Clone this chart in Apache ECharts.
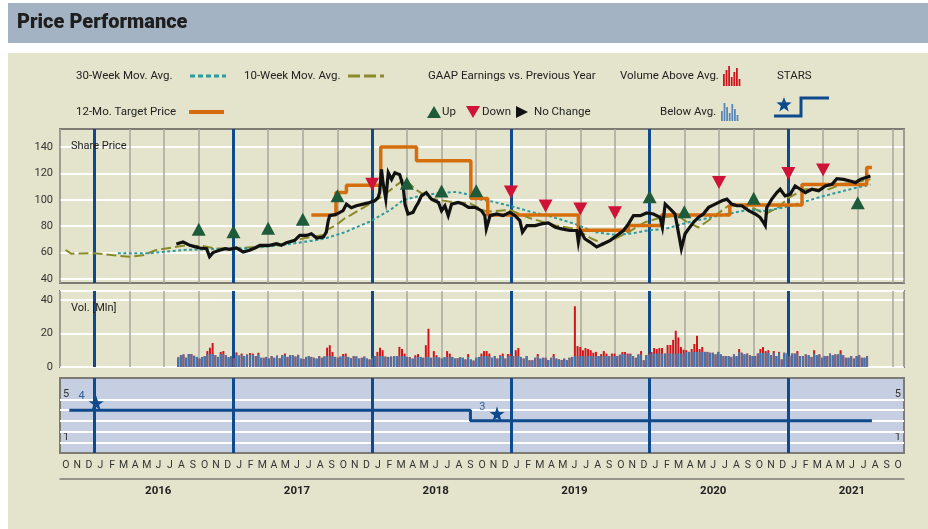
<!DOCTYPE html>
<html><head><meta charset="utf-8">
<script src="https://cdn.jsdelivr.net/npm/echarts@6/dist/echarts.min.js"></script>
<style>
html,body{margin:0;padding:0;background:#fff;width:928px;height:529px;overflow:hidden}
#hdr{position:absolute;left:8px;top:3px;width:920px;height:40px;background:#a4b3c3}
#bg{position:absolute;left:8px;top:53px;width:920px;height:476px;background:#e4e4cd}
#c{position:absolute;left:0;top:0;width:928px;height:529px}
</style>
</head><body><div id="hdr"></div><div id="bg"></div><div id="c"></div>
<script>
// ---------------- DATA ----------------
const monthLetters = ['J','F','M','A','M','J','J','A','S','O','N','D'];
const yearLabels = ['2016','2017','2018','2019','2020','2021'];
const priceTicks = [40,60,80,100,120,140];

const priceDates = ['2016-08-03','2016-08-21','2016-09-08','2016-09-20','2016-10-04','2016-10-22','2016-10-30','2016-11-08','2016-11-25','2016-12-10','2016-12-22',
'2017-01-09','2017-01-27','2017-02-12','2017-02-25','2017-03-10','2017-04-05','2017-04-23','2017-05-05','2017-05-19','2017-06-10','2017-06-23','2017-07-11','2017-07-24','2017-08-07','2017-08-25','2017-09-02','2017-09-07','2017-09-11','2017-09-28','2017-10-16','2017-10-25','2017-11-07','2017-11-20','2017-12-08','2017-12-25',
'2018-01-08','2018-01-17','2018-01-21','2018-01-26','2018-01-30','2018-02-06','2018-02-12','2018-02-20','2018-02-28','2018-03-13','2018-03-22','2018-03-27','2018-04-04','2018-04-17','2018-04-24','2018-05-01','2018-05-09','2018-05-22','2018-06-05','2018-06-23','2018-07-01','2018-07-10','2018-07-19','2018-07-28','2018-08-15','2018-08-28','2018-09-11','2018-09-28','2018-10-15','2018-10-24','2018-10-28','2018-11-07','2018-11-24','2018-12-11','2018-12-29',
'2019-01-12','2019-01-25','2019-02-01','2019-02-12','2019-03-04','2019-03-21','2019-04-08','2019-04-26','2019-05-13','2019-06-04','2019-06-22','2019-06-26','2019-07-01','2019-07-13','2019-07-27','2019-08-14','2019-09-01','2019-09-19','2019-10-06','2019-10-24','2019-11-06','2019-11-19','2019-12-07','2019-12-24',
'2020-01-11','2020-01-29','2020-02-04','2020-02-11','2020-02-24','2020-03-07','2020-03-16','2020-03-24','2020-04-03','2020-04-12','2020-04-25','2020-05-08','2020-05-21','2020-06-04','2020-06-21','2020-07-09','2020-07-22','2020-08-04','2020-08-18','2020-08-31','2020-09-18','2020-10-05','2020-10-18','2020-10-27','2020-11-01','2020-11-05','2020-11-18','2020-12-01','2020-12-10','2020-12-23',
'2021-01-06','2021-01-19','2021-02-02','2021-02-14','2021-03-02','2021-03-20','2021-04-07','2021-04-24','2021-05-07','2021-05-25','2021-06-11','2021-06-25','2021-07-08','2021-07-21','2021-08-04'];
const priceValues = [66.5,68,65.5,64.5,63.5,63,57,60,61.75,63,62.5,
63.5,60.5,61.75,63.5,65.5,65.5,66.75,65.5,67.5,69.25,73,73,74.25,71,71.75,75.5,84,88,89,91.75,96.75,94,95.5,96.75,98,
99.25,101.75,105.5,123,113,100.5,120.5,115.5,120.5,119,110.5,96.75,89.25,90.5,94.5,98,103,105.5,100.5,98,91.75,95.5,88,96.75,98,96.75,94.25,94.25,91.75,88,78,88,89.25,88,90.5,
88,84.25,75.5,80.5,80.5,81.75,82.5,79.25,78,76.75,76.75,68,76.75,70.5,68,64.25,66.75,69.25,73,76.75,81.75,88,88,90,
89.25,86.75,79.25,96.75,93,89.25,75.5,63,74.25,78,83,86.75,89.25,94.25,96.75,99.25,100.5,96.75,95.5,95.5,91.75,89.25,86.75,83,80.5,94.25,100.5,105.5,108,103,
104.25,110.5,108,105.5,108,106.75,110.5,111.75,116,115.5,114.25,113,115.5,116.75,118];

const ma10Dates = ['2015-10-16','2015-10-31','2016-01-01','2016-04-01','2016-05-06','2016-06-11','2016-08-21','2016-10-12','2016-11-16','2017-01-15','2017-03-17','2017-05-10','2017-06-14','2017-07-02','2017-08-24','2017-09-02','2017-09-28','2017-10-25','2017-11-03','2017-12-25','2018-01-30','2018-03-13','2018-03-25','2018-04-26','2018-06-01','2018-07-24','2018-09-15','2018-10-28','2018-12-29','2019-02-20','2019-04-26','2019-06-17','2019-08-01','2019-09-01','2019-10-01','2019-11-06','2019-12-19','2020-02-02','2020-03-16','2020-04-03','2020-05-08','2020-06-21','2020-07-26','2020-08-31','2020-10-05','2020-11-01','2020-12-05','2021-01-02','2021-02-14','2021-04-16','2021-05-20','2021-07-12','2021-08-04'];
const ma10Values = [62,59.2,59.5,56.8,58,62,65.2,65,63,63.5,64.5,66.3,69.25,70.8,73.3,76.75,81,87,88,96.75,103,113,116,107.4,101,98.6,97.3,91,92.3,86,80.5,78,70.5,66.75,70.5,75.5,83,86.75,88,84,79,88,95.5,96,93,89.25,94.25,101.75,108,108,111.75,114.25,115.5];

const ma30Dates = ['2016-03-01','2016-05-24','2016-08-21','2016-11-16','2017-02-13','2017-05-10','2017-08-07','2017-09-02','2017-10-25','2017-11-02','2017-12-25','2018-02-17','2018-03-22','2018-04-26','2018-06-18','2018-08-10','2018-09-10','2018-10-15','2018-11-07','2018-12-29','2019-02-20','2019-04-08','2019-06-17','2019-08-09','2019-10-01','2019-11-15','2020-01-01','2020-02-11','2020-04-12','2020-07-09','2020-09-18','2020-11-01','2021-01-02','2021-03-29','2021-06-25','2021-08-04'];
const ma30Values = [59.5,59.5,62,62.7,63.2,65.8,69.5,71,75.8,77,83.4,92.3,99.8,102.3,104.9,106,104,100,99,95.5,91,88,81.75,75.5,73.5,74.5,77,78,83,88.5,92.5,91.5,95,102.5,109,111.5];

const targetDates = ['2017-07-24','2017-09-27','2017-10-25','2018-01-24','2018-04-26','2018-09-17','2018-11-01','2019-06-26','2019-11-06','2020-02-02','2020-07-30','2021-02-06','2021-07-25','2021-08-08'];
const targetValues = [88.5,105.5,111,140,129.5,101,88.5,77,80.5,88.5,96,111.5,124.5,124.5];

const upDates = ['2016-10-01','2017-01-01','2017-04-01','2017-07-01','2017-10-01','2018-04-01','2018-07-01','2018-10-01','2020-01-01','2020-04-01','2020-10-01','2021-07-01'];
const upValues = [77.7,75.8,78.4,85.2,103.1,112.5,106.7,106.9,102.3,91,101.1,97.8];
const downDates = ['2018-01-01','2019-01-01','2019-04-01','2019-07-01','2019-10-01','2020-07-01','2021-01-01','2021-04-01'];
const downValues = [111.7,106,95.3,93,90.2,113.2,120,122.6];

// weekly volume (millions), first week starting 2016-08-08
const volStart = [2016, 8, 8];
const volValues = [5.7,7,7.5,5.5,7.7,7.7,6.7,6,5,6,
6.5,9.5,11.5,14.3,7,6,9,9.5,7,5.8,
6.5,5.2,8.7,6.8,8,6.5,7.5,8.3,8,6.5,
8.5,5.5,5.5,6,5,6.5,5.5,6.8,5.2,7,
8,6,7,7,6.2,7.3,5,4.8,6,6.5,
6,5.5,5,6.5,5.5,6.3,11.5,13,8.9,6,
5.5,6.2,7.7,8,6,5.2,6.5,6.3,5,5.5,
6.2,5,4.5,5.5,6.5,9,11.5,10,6.2,6,
6.2,6.4,6.5,12,10.7,8,6,5.8,5,7,
7.7,6,5.5,13,22.8,5.5,9.5,7,5.6,5,
5.8,9.5,8,6,5,5.2,5.8,5.5,4.5,7.7,
4.5,3.8,5.5,6,8,9.5,9.5,8,5.5,6.5,
5,7,8,5,7.7,7.7,6.5,10,11.3,6,
5,6.5,4,4,5.5,7.7,5,5.5,5.5,4.2,
5.5,7.7,5,4.5,4.2,5,4,5.5,6,36.2,
12.5,11.9,10,11.3,10.7,10,8.5,9,6.5,7.7,
9.5,8,6.5,8,8,6.5,7.3,8.9,8.9,8,
8,6.5,5.5,7.5,9.5,4,7,8,8.9,11.3,
10.7,11.3,11.3,8,13.1,13.1,16.2,21.6,17.6,11.9,
10.3,10,9,10.7,13.7,18.6,10.7,11.9,9,9,
8.5,8.5,7.5,9,7.5,6.5,6.5,6.5,6,7.5,
6.5,10.7,8.5,7.5,8,7,6.5,6.5,8,10.7,
11.9,9.5,10,7,9.5,6.5,9,4.5,8.5,8,
6.5,8,8,9.5,6.5,6.5,7.5,7,6,10,
7,7.5,5.5,6.5,6.5,8,7,7.5,7.5,10,
7,5.5,5.5,6.5,5,6.5,7,5.5,5.5,6.5];
// quarterly average volume, from 2016 Q3
const volAvgStart = '2016-07-01';
const volAvgValues = [7.7,7.7,7.3,7,6.5,6.5,6.5,6,6,6.5,6.5,6.5,6.5,7.5,8,9,9,8.5,8,8,8];

const starDates = ['2015-10-26','2018-09-16','2021-08-08'];
const starRatings = [4,3,3];
const starMarkDates = ['2016-01-05','2018-11-25'];
const starMarkValues = [4,3];

// ---------------- HELPERS ----------------
function mOfYMD(y, mo, d){ const dim = new Date(y, mo, 0).getDate(); return (y-2015)*12 + (mo-1) - 9 + (d-1)/dim; }
function toM(s){ const p = s.split('-').map(Number); return mOfYMD(p[0], p[1], p[2]); }
const pairs = (ds, vs) => ds.map((d,i) => [toM(d), vs[i]]);

const N_MONTHS = 73; // Oct 2015 .. Oct 2021
const monthLabels = []; for (let k=0;k<N_MONTHS;k++) monthLabels.push(monthLetters[(k+9)%12]);
const yearCats = new Array(N_MONTHS).fill('');
yearLabels.forEach(y => { yearCats[(+y-2015)*12 + 5 - 9] = y; });
const yearLineM = yearLabels.map(y => toM(y + '-01-01'));

const avg0 = toM(volAvgStart);
const volAll = [], volBelow = [];
volValues.forEach((v,i) => {
  const dt = new Date(volStart[0], volStart[1]-1, volStart[2] + 7*i);
  const m = mOfYMD(dt.getFullYear(), dt.getMonth()+1, dt.getDate());
  const a = volAvgValues[Math.min(volAvgValues.length-1, Math.floor((m - avg0)/3))];
  volAll.push([m, v]);
  volBelow.push([m, Math.min(v, a)]);
});

// ---------------- STYLE ----------------
const FONT = 'Roboto, "DejaVu Sans", sans-serif';
const BORDER = '#7d7c74', GRAYV = '#a8a79d', YEARBLUE = '#0f4b8c';
const L = 60, R = 24;
const yearMarkLine = () => ({ silent:true, symbol:'none', animation:false, z:2, label:{show:false},
  lineStyle:{color:YEARBLUE, width:3, type:'solid'}, emphasis:{disabled:true},
  data: yearLineM.map(m => ({xAxis:m})) });
const hiddenX = (g) => ({type:'value', gridIndex:g, min:0, max:N_MONTHS, show:false});
const frameX = (g) => ({type:'value', gridIndex:g, min:0, max:N_MONTHS, interval:3,
  axisLine:{show:false}, axisTick:{show:false}, axisLabel:{show:false},
  splitLine:{show:true, lineStyle:{color:GRAYV, width:1.5}}});

function starPts(cx, cy, r){ const p=[]; for(let k=0;k<10;k++){ const a=-Math.PI/2 + k*Math.PI/5; const rr = k%2?r*0.42:r; p.push([cx+rr*Math.cos(a), cy+rr*Math.sin(a)]);} return p; }
const txt = (x,y,s,extra) => ({type:'text', x, y, z:100, style:Object.assign({text:s, fill:'#222', font:'11.5px ' + FONT, verticalAlign:'middle'}, extra||{})});
const redIcon = [12,16,20,9,14,18,7], blueIcon = [10,18,14,8,17,12,6];
const iconBars = (x0, yb, hs, col) => hs.map((h,k) => ({type:'rect', z:100, shape:{x:x0+k*2.6, y:yb-h, width:1.8, height:h}, style:{fill:col}}));

const graphic = [
  txt(17, 23, 'Price Performance', {font:'900 20px ' + FONT, fill:'#1e1e1e'}),
  txt(76, 76, '30-Week Mov. Avg.'),
  {type:'line', z:100, shape:{x1:190,y1:76,x2:226,y2:76}, style:{stroke:'#2a9a9e', lineWidth:3, lineDash:[5,3]}},
  txt(244, 76, '10-Week Mov. Avg.'),
  {type:'line', z:100, shape:{x1:348,y1:76,x2:384,y2:76}, style:{stroke:'#8a8a28', lineWidth:3, lineDash:[12,4]}},
  txt(428, 76, 'GAAP Earnings vs. Previous Year'),
  txt(620, 76, 'Volume Above Avg.'),
  ...iconBars(723, 86, redIcon, '#d0141c'),
  txt(777, 76, 'STARS'),
  txt(76, 112, '12-Mo. Target Price'),
  {type:'line', z:100, shape:{x1:189,y1:112,x2:224,y2:112}, style:{stroke:'#d66d0c', lineWidth:4}},
  {type:'polygon', z:100, shape:{points:[[427,118],[441,118],[434,106]]}, style:{fill:'#1e5b3b'}},
  txt(442, 112, 'Up'),
  {type:'polygon', z:100, shape:{points:[[466,106],[480,106],[473,118]]}, style:{fill:'#cf1237'}},
  txt(482, 112, 'Down'),
  {type:'polygon', z:100, shape:{points:[[516,106],[516,118],[528,112]]}, style:{fill:'#111'}},
  txt(534, 112, 'No Change'),
  txt(660, 112, 'Below Avg.'),
  ...iconBars(721, 121, blueIcon, '#5b87b8'),
  {type:'polyline', z:100, shape:{points:[[774,116],[801,116],[801,98],[829,98]]}, style:{stroke:YEARBLUE, lineWidth:3, fill:null}},
  {type:'polygon', z:100, shape:{points:starPts(784,105,8)}, style:{fill:YEARBLUE}},
  txt(71, 146, 'Share Price', {font:'11px ' + FONT}),
  txt(71, 308, 'Vol. [Mln]', {font:'11px ' + FONT})
];

const STAR = 'path://M12,0 L14.9,8.5 L24,8.5 L16.6,13.8 L19.4,22.5 L12,17.2 L4.6,22.5 L7.4,13.8 L0,8.5 L9.1,8.5 Z';

const option = {
  animation:false,
  backgroundColor:'transparent',
  textStyle:{fontFamily:FONT},
  graphic: graphic,
  grid: [
    {left:L, right:R, top:129, bottom:529-283, show:true, borderColor:BORDER, borderWidth:2, backgroundColor:'transparent'},
    {left:L, right:R, top:147, bottom:529-279, show:false},
    {left:L, right:R, top:291, bottom:529-367, show:true, borderColor:BORDER, borderWidth:2, backgroundColor:'transparent'},
    {left:L, right:R, top:378, bottom:529-453, show:true, borderColor:BORDER, borderWidth:2, backgroundColor:'#c5cfe1'}
  ],
  xAxis: [
    frameX(0), hiddenX(1), frameX(2), hiddenX(3),
    {type:'category', gridIndex:3, position:'bottom', data:monthLabels, boundaryGap:true,
      axisLine:{show:false}, axisTick:{show:false}, splitLine:{show:false},
      axisLabel:{interval:0, fontSize:10.5, color:'#333', margin:7, fontFamily:FONT}},
    {type:'category', gridIndex:3, position:'bottom', offset:26, data:yearCats, boundaryGap:true,
      axisLine:{show:true, lineStyle:{color:BORDER, width:1.5}}, axisTick:{show:false}, splitLine:{show:false},
      axisLabel:{interval:0, fontSize:11.5, fontWeight:'bold', color:'#222', margin:6, fontFamily:FONT}}
  ],
  yAxis: [
    {type:'value', gridIndex:0, min:0, max:1, show:false},
    {type:'value', gridIndex:1, min:priceTicks[0], max:priceTicks[priceTicks.length-1], interval:priceTicks[1]-priceTicks[0],
      axisLine:{show:false}, axisTick:{show:false},
      axisLabel:{color:'#333', fontSize:11, margin:7, fontFamily:FONT},
      splitLine:{show:true, lineStyle:{color:'#ffffff', width:2}}},
    {type:'value', gridIndex:2, min:0, max:45.3, interval:20,
      axisLine:{show:false}, axisTick:{show:false},
      axisLabel:{color:'#333', fontSize:11, margin:7, fontFamily:FONT, showMaxLabel:false, formatter:v => (v%20===0 ? String(v) : '')},
      splitLine:{show:true, lineStyle:{color:'#ffffff', width:2}}},
    {type:'value', gridIndex:3, min:0, max:7, interval:1, position:'left',
      axisLine:{show:false}, axisTick:{show:false}, splitLine:{show:false},
      axisLabel:{inside:true, margin:3, verticalAlign:'bottom', color:'#333', fontSize:11, fontFamily:FONT, formatter:v => ((v===5||v===1) ? String(v) : '')}},
    {type:'value', gridIndex:3, min:0, max:7, interval:1, position:'right',
      axisLine:{show:false}, axisTick:{show:false}, splitLine:{show:false},
      axisLabel:{inside:true, margin:3, verticalAlign:'bottom', color:'#333', fontSize:11, fontFamily:FONT, formatter:v => ((v===5||v===1) ? String(v) : '')}}
  ],
  series: [
    {name:'priceFrame', type:'line', xAxisIndex:0, yAxisIndex:0, data:[], z:2, markLine:yearMarkLine()},
    {name:'10-Week Mov. Avg.', type:'line', xAxisIndex:1, yAxisIndex:1, data:pairs(ma10Dates, ma10Values), showSymbol:false, z:3, clip:false,
      lineStyle:{color:'#8a8a28', width:2, type:[10,4]}},
    {name:'30-Week Mov. Avg.', type:'line', xAxisIndex:1, yAxisIndex:1, data:pairs(ma30Dates, ma30Values), showSymbol:false, z:3, clip:false,
      lineStyle:{color:'#2a9a9e', width:2, type:[3,2.5]}},
    {name:'12-Mo. Target Price', type:'line', step:'end', xAxisIndex:1, yAxisIndex:1, data:pairs(targetDates, targetValues), showSymbol:false, z:4, clip:false,
      lineStyle:{color:'#d66d0c', width:3.5}},
    {name:'Share Price', type:'line', xAxisIndex:1, yAxisIndex:1, data:pairs(priceDates, priceValues), showSymbol:false, z:5, clip:false,
      lineStyle:{color:'#111', width:3.2, join:'miter'}},
    {name:'Up', type:'scatter', xAxisIndex:1, yAxisIndex:1, data:pairs(upDates, upValues), symbol:'triangle', symbolSize:[14,13], z:6,
      itemStyle:{color:'#1e5b3b', opacity:1}},
    {name:'Down', type:'scatter', xAxisIndex:1, yAxisIndex:1, data:pairs(downDates, downValues), symbol:'triangle', symbolRotate:180, symbolSize:[14,13], z:6,
      itemStyle:{color:'#cf1237', opacity:1}},
    {name:'volFrame', type:'line', xAxisIndex:2, yAxisIndex:2, data:[], z:2, markLine:yearMarkLine()},
    {name:'Volume Above Avg.', type:'bar', xAxisIndex:2, yAxisIndex:2, data:volAll, barWidth:2, barGap:'-100%', z:3,
      itemStyle:{color:'#d0141c'}},
    {name:'Below Avg.', type:'bar', xAxisIndex:2, yAxisIndex:2, data:volBelow, barWidth:2, barGap:'-100%', z:4,
      itemStyle:{color:'#4a74a7'}},
    {name:'starGrid', type:'line', xAxisIndex:3, yAxisIndex:3, data:[], z:1,
      markLine:{silent:true, symbol:'none', animation:false, z:1, label:{show:false}, emphasis:{disabled:true},
        lineStyle:{color:'#ffffff', width:2, type:'solid'}, data:[1,2,3,4,5].map(v => ({yAxis:v}))}},
    {name:'starYears', type:'line', xAxisIndex:3, yAxisIndex:3, data:[], z:2, markLine:yearMarkLine()},
    {name:'STARS', type:'line', step:'end', xAxisIndex:3, yAxisIndex:3, data:pairs(starDates, starRatings), showSymbol:false, z:6,
      lineStyle:{color:YEARBLUE, width:3}},
    {name:'starMarks', type:'scatter', xAxisIndex:3, yAxisIndex:3, data:pairs(starMarkDates, starMarkValues), symbol:STAR, symbolSize:15,
      symbolOffset:[0,-7], z:7, itemStyle:{color:YEARBLUE, opacity:1},
      label:{show:true, position:'left', distance:4, offset:[0,-7], color:'#2f5f99', fontSize:11, fontFamily:FONT, formatter:p => String(p.value[1])}}
  ]
};
const chart = echarts.init(document.getElementById('c'), null, {renderer:'canvas'});
chart.setOption(option);
</script></body></html>
